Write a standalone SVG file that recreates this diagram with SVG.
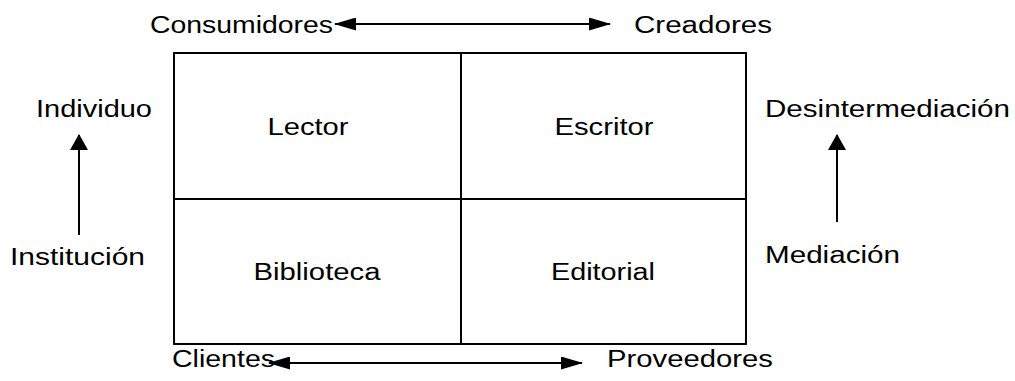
<svg xmlns="http://www.w3.org/2000/svg" width="1015" height="381" viewBox="0 0 1015 381">
<style>
text{font-family:"Liberation Sans",Arial,sans-serif;font-size:23px;fill:#000}
.c{text-anchor:middle}
.cell{fill:#fff;stroke:#000;stroke-width:2}
.conn{stroke:#000;stroke-width:2;fill:none}
</style>
<defs>
<marker id="ah" viewBox="0 0 22 13" refX="21" refY="6.5" markerWidth="22" markerHeight="13" markerUnits="userSpaceOnUse" orient="auto-start-reverse">
<path d="M0,0 L22,6.5 L0,13 z" fill="#000"/>
</marker>
<marker id="av" viewBox="0 0 16 18" refX="15" refY="9" markerWidth="16" markerHeight="18" markerUnits="userSpaceOnUse" orient="auto">
<path d="M0,0 L16,9 L0,18 z" fill="#000"/>
</marker>
</defs>
<rect width="1015" height="381" fill="#fff"/>
<g id="lector"><rect class="cell" x="174" y="53" width="287" height="146"/><text class="c" x="308" y="135" textLength="81" lengthAdjust="spacingAndGlyphs">Lector</text></g>
<g id="escritor"><rect class="cell" x="461" y="53" width="285" height="146"/><text class="c" x="604" y="135" textLength="99" lengthAdjust="spacingAndGlyphs">Escritor</text></g>
<g id="biblioteca"><rect class="cell" x="174" y="199" width="287" height="145"/><text class="c" x="317" y="280" textLength="127" lengthAdjust="spacingAndGlyphs">Biblioteca</text></g>
<g id="editorial"><rect class="cell" x="461" y="199" width="285" height="145"/><text class="c" x="603" y="280" textLength="104" lengthAdjust="spacingAndGlyphs">Editorial</text></g>
<g id="consumidores"><text x="150" y="33" textLength="183" lengthAdjust="spacingAndGlyphs">Consumidores</text></g>
<g id="creadores"><text x="634" y="33" textLength="138" lengthAdjust="spacingAndGlyphs">Creadores</text></g>
<g id="clientes"><text x="172" y="367" textLength="103" lengthAdjust="spacingAndGlyphs">Clientes</text></g>
<g id="proveedores"><text x="607" y="367" textLength="166" lengthAdjust="spacingAndGlyphs">Proveedores</text></g>
<g id="individuo"><text x="36" y="117" textLength="116" lengthAdjust="spacingAndGlyphs">Individuo</text></g>
<g id="institucion"><text x="10" y="265" textLength="135" lengthAdjust="spacingAndGlyphs">Institución</text></g>
<g id="desintermediacion"><text x="765" y="117" textLength="245" lengthAdjust="spacingAndGlyphs">Desintermediación</text></g>
<g id="mediacion"><text x="765" y="263" textLength="135" lengthAdjust="spacingAndGlyphs">Mediación</text></g>
<g id="connectors">
<line class="conn" x1="335" y1="24" x2="610" y2="24" marker-start="url(#ah)" marker-end="url(#ah)"/>
<line class="conn" x1="269" y1="363" x2="582" y2="363" marker-start="url(#ah)" marker-end="url(#ah)"/>
<line class="conn" x1="79" y1="235" x2="79" y2="135" marker-end="url(#av)"/>
<line class="conn" x1="837" y1="222" x2="837" y2="135" marker-end="url(#av)"/>
</g>
</svg>
